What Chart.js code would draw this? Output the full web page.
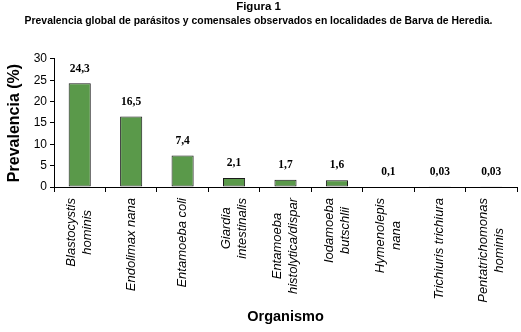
<!DOCTYPE html>
<html lang="es">
<head>
<meta charset="UTF-8">
<script src="https://cdn.jsdelivr.net/npm/chart.js"></script>
<style>
  html, body { margin: 0; padding: 0; background: #fff; }
  #wrap { width: 521px; height: 332px; }
</style>
</head>
<body>
<div id="wrap"><canvas id="chart" width="521" height="332"></canvas></div>
<script>
// datos de la figura
const organismos = [
  ['Blastocystis', 'hominis'],
  ['Endolimax nana'],
  ['Entamoeba coli'],
  ['Giardia', 'intestinalis'],
  ['Entamoeba', 'histolytica/dispar'],
  ['Iodamoeba', 'butschlii'],
  ['Hymenolepis', 'nana'],
  ['Trichiuris trichiura'],
  ['Pentatrichomonas', 'hominis']
];
const prevalencia = [24.3, 16.5, 7.4, 2.1, 1.7, 1.6, 0.1, 0.03, 0.03];
const etiquetas = ['24,3', '16,5', '7,4', '2,1', '1,7', '1,6', '0,1', '0,03', '0,03'];
const yTicks = [0, 5, 10, 15, 20, 25, 30];

const SANS = 'Arial, "Liberation Sans", sans-serif';

// valores encima de las barras
const valueLabels = {
  id: 'valueLabels',
  afterDatasetsDraw(chart) {
    const ctx = chart.ctx;
    const meta = chart.getDatasetMeta(0);
    ctx.save();
    ctx.font = 'bold 11.5px "Liberation Serif", "Times New Roman", serif';
    ctx.fillStyle = '#000';
    ctx.textAlign = 'center';
    ctx.textBaseline = 'bottom';
    meta.data.forEach((bar, i) => {
      ctx.fillText(etiquetas[i], bar.x, bar.y - 9);
    });
    ctx.restore();
  }
};

// nombres de los organismos, girados 90 grados
const xLabels = {
  id: 'xLabels',
  afterDraw(chart) {
    const ctx = chart.ctx;
    const xs = chart.scales.x;
    const top = xs.top + 11;
    const lh = 16;
    ctx.save();
    ctx.font = 'italic 13px ' + SANS;
    ctx.fillStyle = '#000';
    ctx.textAlign = 'center';
    ctx.textBaseline = 'middle';
    organismos.forEach((lines, i) => {
      const cx = xs.getPixelForValue(i);
      const maxW = Math.max(...lines.map(l => ctx.measureText(l).width));
      lines.forEach((line, j) => {
        ctx.save();
        ctx.translate(cx + (j - (lines.length - 1) / 2) * lh, top + maxW / 2);
        ctx.rotate(-Math.PI / 2);
        ctx.fillText(line, 0, 0);
        ctx.restore();
      });
    });
    ctx.restore();
  }
};

new Chart(document.getElementById('chart'), {
  type: 'bar',
  data: {
    labels: organismos.map(l => l.join(' ')),
    datasets: [{
      data: prevalencia,
      backgroundColor: '#5a994a',
      borderColor: '#1a1a1a',
      borderWidth: 1,
      borderSkipped: false,
      categoryPercentage: 1,
      barPercentage: 0.43
    }]
  },
  options: {
    responsive: false,
    animation: false,
    layout: { padding: { left: 0, right: 4, top: 0, bottom: 4 } },
    plugins: {
      legend: { display: false },
      tooltip: { enabled: false },
      title: {
        display: true,
        text: 'Figura 1',
        color: '#000',
        font: { family: SANS, size: 11.5, weight: 'bold', lineHeight: 1.2 },
        padding: { top: 0, bottom: 1 }
      },
      subtitle: {
        display: true,
        text: 'Prevalencia global de parásitos y comensales observados en localidades de Barva de Heredia.',
        color: '#000',
        font: { family: SANS, size: 10.4, weight: 'bold', lineHeight: 1.2 },
        padding: { top: 0, bottom: 31.7 }
      }
    },
    scales: {
      x: {
        offset: true,
        grid: { offset: true, drawOnChartArea: false, color: '#000', tickLength: 5 },
        border: { color: '#000', width: 1 },
        ticks: { display: false },
        title: {
          display: true,
          text: 'Organismo',
          color: '#000',
          font: { family: SANS, size: 14.5, weight: 'bold', lineHeight: 1.2 },
          padding: { top: 0, bottom: 2 }
        },
        afterFit(scale) { scale.height = 141; }
      },
      y: {
        min: 0,
        max: 30,
        afterBuildTicks(scale) { scale.ticks = yTicks.map(v => ({ value: v })); },
        grid: { drawOnChartArea: false, color: '#000', tickLength: 4 },
        border: { color: '#000', width: 1 },
        ticks: {
          color: '#000',
          font: { family: SANS, size: 12 },
          padding: 3
        },
        title: {
          display: true,
          text: 'Prevalencia (%)',
          color: '#000',
          font: { family: SANS, size: 16, weight: 'bold', lineHeight: 1.2 },
          padding: { top: 5, bottom: 0 }
        },
        afterFit(scale) { scale.width = 54; }
      }
    }
  },
  plugins: [valueLabels, xLabels]
});
</script>
</body>
</html>
